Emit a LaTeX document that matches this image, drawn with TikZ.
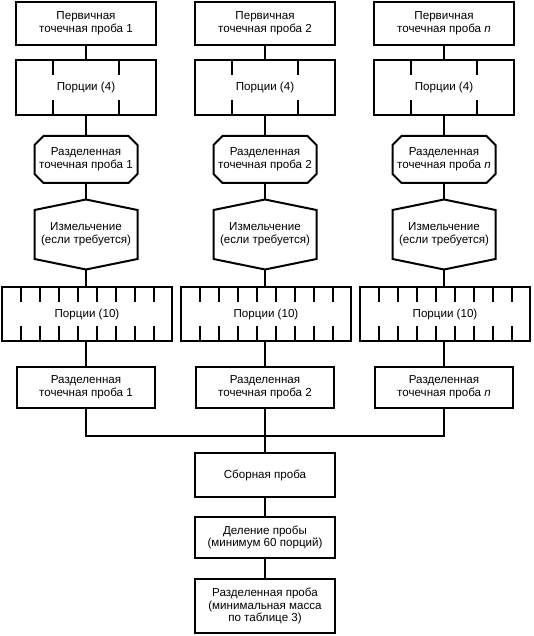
\documentclass[tikz,border=0pt]{standalone}
\usepackage{fontspec}
\setmainfont{Liberation Sans}

\begin{document}
\begin{tikzpicture}[x=1pt, y=-1pt, line width=2pt, every node/.style={font=\fontsize{11.6}{12.6}\selectfont, align=center}]
    \tikzstyle{box}=[rectangle, draw, inner sep=0pt, minimum width=140pt]
    \tikzstyle{plain box}=[rectangle, inner sep=0pt, minimum width=101pt]
    \tikzstyle{portion box}=[rectangle, draw, inner sep=0pt, minimum width=170pt, minimum height=54pt]

    \useasboundingbox (0,0) rectangle (534,636);

    % Three parallel columns
    \foreach \i/\lab in {1/1, 2/2, 3/\textit{n}} {
        \pgfmathsetmacro{\cx}{86+179*(\i-1)}

        % Primary sample and first division
        \node[box, minimum height=43pt] (P-\i) at (\cx,23.5) {Первичная\\точечная проба \lab};
        \node[box, minimum height=55pt] (Q-\i) at (\cx,87.5) {Порции (4)};
        \foreach \dx in {-33,33} {
            \draw ([xshift=\dx pt]Q-\i.north) -- ++(0,16);
            \draw ([xshift=\dx pt]Q-\i.south) -- ++(0,-16);
        }

        % Divided sample (octagon)
        \node[plain box, minimum height=45pt] (S-\i) at (\cx,159.5) {Разделенная\\точечная проба \lab};
        \draw ([xshift=9pt]S-\i.north west) -- ([xshift=-9pt]S-\i.north east)
            -- ([yshift=-9pt]S-\i.north east) -- ([yshift=9pt]S-\i.south east)
            -- ([xshift=-9pt]S-\i.south east) -- ([xshift=9pt]S-\i.south west)
            -- ([yshift=9pt]S-\i.south west) -- ([yshift=-9pt]S-\i.north west) -- cycle;

        % Grinding (hexagon)
        \node[plain box, minimum height=47pt] (G-\i) at (\cx,234.5) {Измельчение\\(если требуется)};
        \coordinate (G-\i-top) at ([yshift=10.5pt]G-\i.north);
        \coordinate (G-\i-bot) at ([yshift=-10.5pt]G-\i.south);
        \draw (G-\i.north west) -- (G-\i-top) -- (G-\i.north east) -- (G-\i.south east)
            -- (G-\i-bot) -- (G-\i.south west) -- cycle;

        % Second division
        \node[portion box] (R-\i) at (\cx+1,314) {Порции (10)};
        \foreach \k in {1,...,8} {
            \pgfmathsetmacro{\dx}{(\k-4.5)*19}
            \draw ([xshift=\dx pt]R-\i.north) -- ++(0,16);
            \draw ([xshift=\dx pt]R-\i.south) -- ++(0,-16);
        }

        % Divided sample after second division
        \node[box, minimum width=138pt, minimum height=41pt] (F-\i) at (\cx,387.5) {Разделенная\\точечная проба \lab};
        \coordinate (B-\i) at (\cx,436);

        % Connect the column
        \draw (P-\i) -- (Q-\i);
        \draw (Q-\i) -- (S-\i);
        \draw (S-\i) -- (G-\i-top);
        \draw (G-\i-bot) -- (R-\i.north -| G-\i-bot);
        \draw (R-\i.south -| F-\i) -- (F-\i);
    }

    % Combined sample and its division
    \node[box, minimum height=44pt] (C) at (265,475) {Сборная проба};
    \node[box, minimum height=41pt] (D) at (265,537.5) {Деление пробы\\(минимум 60 порций)};
    \node[box, minimum height=54pt] (E) at (265,606) {Разделенная проба\\(минимальная масса\\по таблице 3)};

    % Collecting line
    \draw (F-1) -- (B-1) -- (B-3) -- (F-3);
    \draw (F-2) -- (B-2) -- (C);
    \draw (C) -- (D);
    \draw (D) -- (E);
\end{tikzpicture}
\end{document}
